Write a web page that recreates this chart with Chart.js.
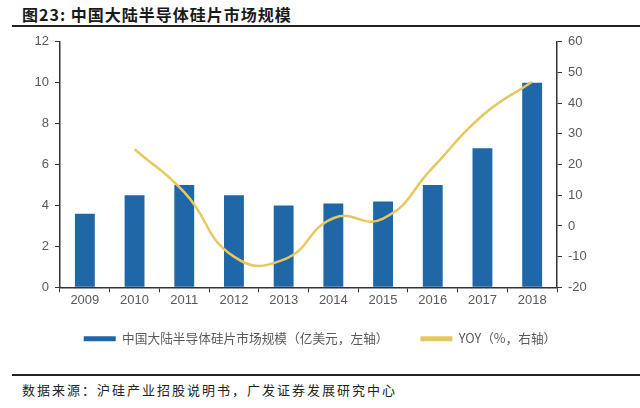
<!DOCTYPE html>
<html>
<head>
<meta charset="utf-8">
<script src="https://cdn.jsdelivr.net/npm/chart.js@4"></script>
<style>
  html, body { margin: 0; padding: 0; background: #fff; }
  body { width: 640px; height: 408px; position: relative; overflow: hidden; font-family: "Noto Sans CJK SC", sans-serif; }
  #titulo { position: absolute; left: 22px; top: 2px; font-size: 16px; font-weight: bold; color: #1a1a1a; letter-spacing: 1px; }
  #lineaTop { position: absolute; left: 12px; width: 628px; top: 25px; border-top: 2px solid #222; }
  #caja { position: absolute; left: 0; top: 28px; width: 640px; height: 342px; }
  #lineaBottom { position: absolute; left: 12px; width: 628px; top: 374px; border-top: 2px solid #222; }
  #fuente { position: absolute; left: 22px; top: 380px; font-size: 13px; letter-spacing: 2px; color: #222; }
</style>
</head>
<body>
<div id="titulo">图23:&nbsp;中国大陆半导体硅片市场规模</div>
<div id="lineaTop"></div>
<div id="caja"><canvas id="grafico"></canvas></div>
<div id="lineaBottom"></div>
<div id="fuente">数据来源：沪硅产业招股说明书，广发证券发展研究中心</div>
<script>
// datos
const years = ["2009", "2010", "2011", "2012", "2013", "2014", "2015", "2016", "2017", "2018"];
const mercado = [3.6, 4.5, 5.0, 4.5, 4.0, 4.1, 4.2, 5.0, 6.8, 10.0];
const yoy = [null, 25, 11, -10, -11, 2.5, 2.4, 19, 36, 47];

const nombreBarra = "中国大陆半导体硅片市场规模（亿美元，左轴）";
const nombreLinea = "YOY（%，右轴）";

const azul = "#1f67a6";
const amarillo = "#e6c860";
const gris = "#595959";
const ejeColor = "#333333";

const grafico = document.getElementById("grafico");
const ctx = grafico.getContext("2d");

const chart = new Chart(ctx, {
  data: {
    labels: years,
    datasets: [
      {
        type: "line",
        label: nombreLinea,
        data: yoy,
        yAxisID: "y1",
        borderColor: amarillo,
        backgroundColor: amarillo,
        borderWidth: 2.5,
        pointRadius: 0,
        tension: 0.5,
        order: 0
      },
      {
        type: "bar",
        label: nombreBarra,
        data: mercado,
        yAxisID: "y",
        backgroundColor: azul,
        barPercentage: 0.4,
        categoryPercentage: 1,
        order: 1
      }
    ]
  },
  options: {
    responsive: true,
    maintainAspectRatio: false,
    animation: false,
    layout: { padding: { top: 8, bottom: 15, left: 0, right: 0 } },
    plugins: {
      tooltip: { enabled: false },
      legend: {
        position: "bottom",
        labels: {
          color: gris,
          font: { family: "'Noto Sans CJK SC'", size: 12.7 },
          boxWidth: 32,
          boxHeight: 5,
          padding: 10,
          generateLabels: function (c) {
            // barra primero, luego la linea; espacios para separar como en el original
            return [1, 0].map(function (i) {
              const ds = c.data.datasets[i];
              return {
                text: i === 1 ? ds.label + "\u3000\u3000 " : ds.label,
                fillStyle: i === 1 ? azul : amarillo,
                strokeStyle: i === 1 ? azul : amarillo,
                lineWidth: 0,
                fontColor: gris,
                datasetIndex: i
              };
            });
          }
        }
      }
    },
    scales: {
      x: {
        offset: true,
        grid: { display: true, drawOnChartArea: false, offset: true, tickLength: 5, color: ejeColor },
        border: { color: ejeColor, width: 1.5 },
        ticks: { color: gris, font: { family: "'Liberation Sans'", size: 13 }, padding: 0 },
        afterFit: function (s) { s.height = 35; }
      },
      y: {
        position: "left",
        min: 0,
        max: 12,
        ticks: { stepSize: 2, color: gris, font: { family: "'Liberation Sans'", size: 13 }, padding: 6 },
        grid: { drawOnChartArea: false, tickLength: 5, color: ejeColor },
        border: { color: ejeColor, width: 1.5 },
        afterFit: function (s) { s.width = 60; }
      },
      y1: {
        position: "right",
        min: -20,
        max: 60,
        ticks: { stepSize: 10, color: gris, font: { family: "'Liberation Sans'", size: 13 }, padding: 6 },
        grid: { drawOnChartArea: false, tickLength: 5, color: ejeColor },
        border: { color: ejeColor, width: 1.5 },
        afterFit: function (s) { s.width = 83; }
      }
    }
  }
});
grafico.chart = chart;
</script>
</body>
</html>
